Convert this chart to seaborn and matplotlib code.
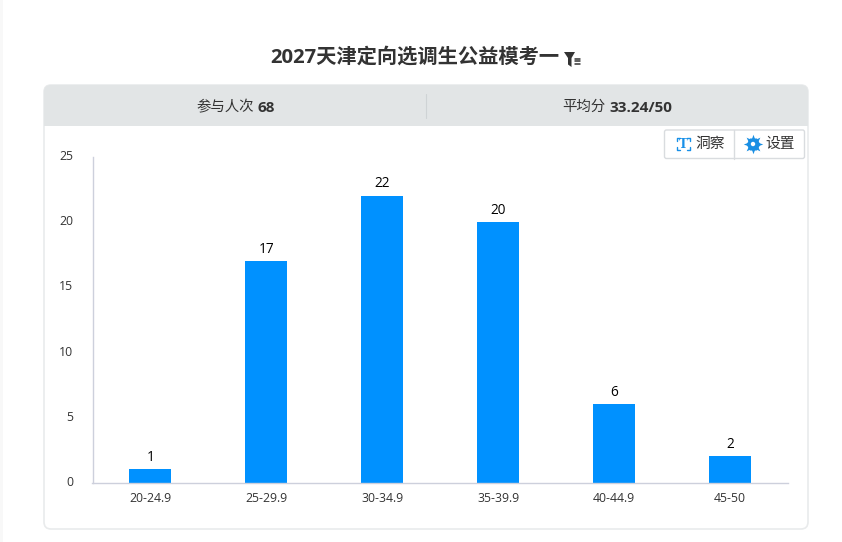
import matplotlib
matplotlib.use("Agg")
import matplotlib.pyplot as plt
from matplotlib.patches import FancyBboxPatch, Rectangle, Polygon, Circle
from matplotlib.transforms import ScaledTranslation
import pandas as pd
import seaborn as sns

title = "2027天津定向选调生公益模考一"
categories = ["20-24.9", "25-29.9", "30-34.9", "35-39.9", "40-44.9", "45-50"]
counts = [1, 17, 22, 20, 6, 2]
y_ticks = [0, 5, 10, 15, 20, 25]
stat_left = ("参与人次", "68")
stat_right = ("平均分", "33.24/50")
buttons = ["洞察", "设置"]

sns.set_theme(style="white")
plt.rcParams["font.family"] = ["Open Sans", "Noto Sans CJK SC", "DejaVu Sans"]
W, H = 842, 542
fig = plt.figure(figsize=(W / 100, H / 100), dpi=100, facecolor="white")

bg = fig.add_axes([0, 0, 1, 1], zorder=0)
bg.set_xlim(0, W)
bg.set_ylim(H, 0)
bg.axis("off")
bg.add_patch(Rectangle((0, 0), 3, H, fc="#f8f8f8", ec="none"))
bg.add_patch(FancyBboxPatch((44, 85), 764, 444, boxstyle="round,pad=0,rounding_size=7",
                            fc="white", ec="#e9ebec", lw=1.2))
bg.add_patch(FancyBboxPatch((44, 85), 764, 41, boxstyle="round,pad=0,rounding_size=7",
                            fc="#e2e5e6", ec="none"))
bg.add_patch(Rectangle((44, 112), 764, 14, fc="#e2e5e6", ec="none"))
bg.plot([425.5, 425.5], [94, 118], color="#cfd3d5", lw=0.8)

bg.text(270, 58, title, fontsize=14.6, fontweight="bold", color="#333333", ha="left", va="center")
# filter icon beside the title
bg.add_patch(Polygon([(564, 52), (575, 52), (571.5, 58), (571.5, 67), (568, 64.5), (568, 58)],
                     fc="#333333", ec="none"))
for yy in (58.5, 61, 63.5):
    bg.plot([575, 580], [yy, yy], color="#333333", lw=1.1)

stat_y = 107.5
bg.text(225, stat_y, stat_left[0], fontsize=10.4, color="#333333", ha="center", va="center")
bg.text(257, stat_y, stat_left[1], fontsize=11, fontweight="bold", color="#333333", ha="left", va="center")
bg.text(584, stat_y, stat_right[0], fontsize=10.4, color="#333333", ha="center", va="center")
bg.text(609, stat_y, stat_right[1], fontsize=11, fontweight="bold", color="#333333", ha="left", va="center")

# toolbar buttons
bg.add_patch(FancyBboxPatch((664.5, 130), 140, 28.5, boxstyle="round,pad=0,rounding_size=2",
                            fc="white", ec="#d9dcdf", lw=1))
bg.plot([734, 734], [130, 158.5], color="#d9dcdf", lw=1)
bg.text(710, 144.5, buttons[0], fontsize=10.6, color="#333333", ha="center", va="center")
bg.text(780, 144.5, buttons[1], fontsize=10.6, color="#333333", ha="center", va="center")
blue = "#1890e8"
for xs, ys in [([677, 677, 680], [141, 138, 138]), ([687, 690, 690], [138, 138, 141]),
               ([677, 677, 680], [147, 150, 150]), ([687, 690, 690], [150, 150, 147])]:
    bg.plot(xs, ys, color=blue, lw=1)
bg.text(683.5, 144, "T", fontsize=8.5, fontweight="bold", family="DejaVu Serif",
        color=blue, ha="center", va="center")
bg.plot([753], [144], marker=(6, 0, 30), ms=10, color="#1a8fe3", mec="none")
bg.plot([753], [144], marker=(8, 1, 0), ms=14, color="#1a8fe3", mec="none")
bg.add_patch(Circle((753, 144), 2.2, fc="white", ec="none", zorder=5))

# chart
left, right, top, bottom = 92.5, 788, 156.5, 482.5
ax = fig.add_axes([left / W, 1 - bottom / H, (right - left) / W, (bottom - top) / H], zorder=1)
ax.patch.set_alpha(0)
data = pd.DataFrame({"range": categories, "count": counts})
sns.barplot(data=data, x="range", y="count", color="#0091ff", saturation=1, width=0.363,
            linewidth=0, ax=ax)
ax.set_xlim(-0.5, 5.5)
ax.set_ylim(y_ticks[0], y_ticks[-1])
ax.set_yticks(y_ticks)
ax.set_xlabel("")
ax.set_ylabel("")
ax.tick_params(axis="both", length=0, labelsize=8.8, labelcolor="#333333")
ax.tick_params(axis="x", pad=7)
ax.tick_params(axis="y", pad=14)
up = ScaledTranslation(0, 1.5 / 100, fig.dpi_scale_trans)
for lab in ax.get_yticklabels():
    lab.set_transform(lab.get_transform() + up)
sns.despine(ax=ax)
for s in ("left", "bottom"):
    ax.spines[s].set_color("#cdd0dc")
    ax.spines[s].set_linewidth(1)
ax.bar_label(ax.containers[0], labels=[str(v) for v in counts], padding=3, fontsize=9.8, color="black")

fig.savefig("out.png", dpi=100, facecolor="white")
